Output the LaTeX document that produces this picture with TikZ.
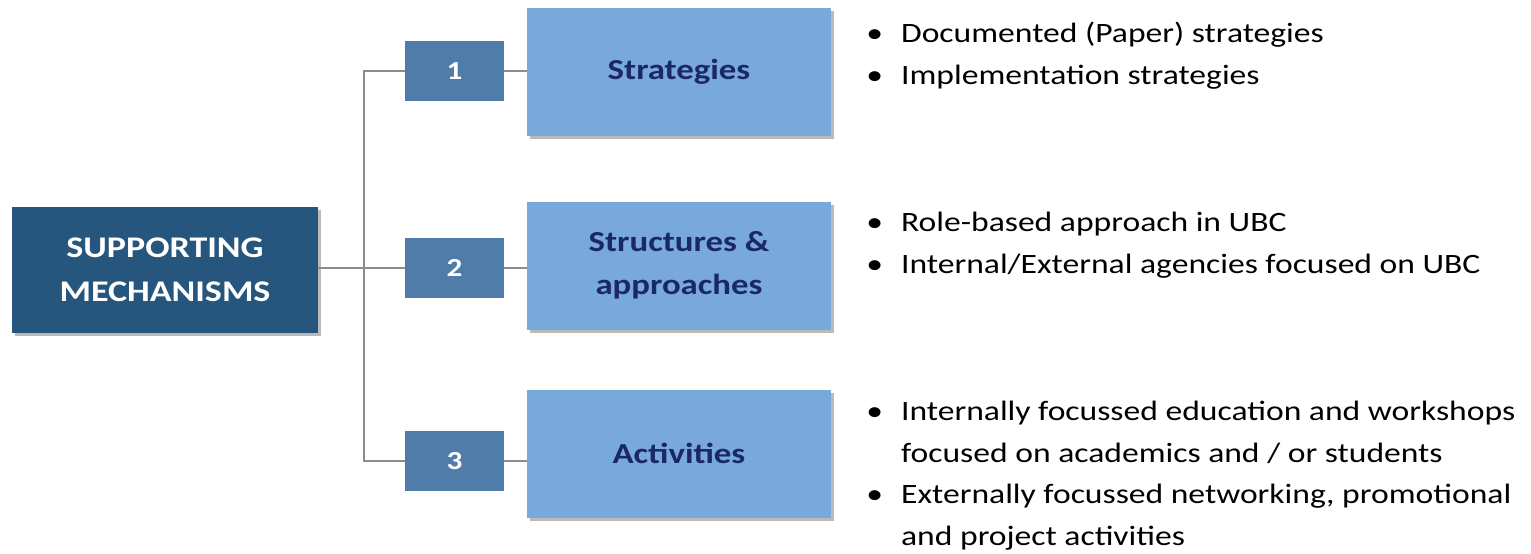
\documentclass[tikz,border=0pt]{standalone}
\usepackage{fontspec}
\setmainfont{Carlito}[FakeStretch=1.2]
\usetikzlibrary{calc,shadows}
\definecolor{MainBlue}{RGB}{38,85,126}
\definecolor{NumBlue}{RGB}{80,124,170}
\definecolor{BoxBlue}{RGB}{120,169,218}
\definecolor{InkBlue}{RGB}{27,40,102}
\definecolor{LineGray}{RGB}{140,140,140}

\begin{document}
\begin{tikzpicture}[x=0.5pt, y=-0.5pt,
	Schatten/.style={drop shadow={shadow xshift=1.5pt, shadow yshift=-1.5pt, opacity=0.45, fill=black!60}},
	Haupt/.style={Schatten, fill=MainBlue, text=white, font=\fontsize{15}{22}\selectfont\bfseries, align=center, minimum width=153pt, minimum height=63pt, inner sep=0pt},
	Nummer/.style={fill=NumBlue, text=white, font=\fontsize{13}{15}\selectfont\bfseries, minimum width=49.5pt, minimum height=30pt, inner sep=0pt},
	Feld/.style={Schatten, fill=BoxBlue, text=InkBlue, font=\fontsize{14.5}{21.5}\selectfont\bfseries, align=center, minimum width=152pt, minimum height=64pt, inner sep=0pt},
	Liste/.style={anchor=north west, inner sep=0pt, font=\fontsize{14}{20.75}\selectfont, align=left},
	Linie/.style={draw=LineGray, line width=0.8pt}]
				\useasboundingbox (0,0) rectangle (1531,553);
				\node[Haupt] (mech) at (165,270) {SUPPORTING\\MECHANISMS};
				\coordinate (stamm) at (364,268);
				\node[Nummer] (n1) at (454.5,71) {1};
				\node[Nummer] (n2) at (454.5,268) {2};
				\node[Nummer] (n3) at (454.5,461) {3};
				\node[Feld] (strat) at (679,72) {Strategies};
				\node[Feld] (struct) at (679,265.5) {Structures \&\\approaches};
				\node[Feld] (activ) at (679,453.5) {Activities};
				% Baum
				\draw[Linie] (mech.east |- stamm) -- (stamm);
				\draw[Linie] (stamm) |- (n1.west);
				\draw[Linie] (stamm) |- (n3.west);
				\draw[Linie] (stamm) -- (n2.west);
				\draw[Linie] (n1.east) -- (n1.east -| strat.west);
				\draw[Linie] (n2.east) -- (n2.east -| struct.west);
				\draw[Linie] (n3.east) -- (n3.east -| activ.west);
				% Stichpunkte
				\node[Liste] (l1) at (866,22) {\textbullet\hspace{9pt}Documented (Paper) strategies\\
					\textbullet\hspace{9pt}Implementation strategies};
				\node[Liste] (l2) at (866,212) {\textbullet\hspace{9pt}Role-based approach in UBC\\
					\textbullet\hspace{9pt}Internal/External agencies focused on UBC};
				\node[Liste] (l3) at (866,401) {\textbullet\hspace{9pt}Internally focussed education and workshops\\
					\phantom{\textbullet}\hspace{9pt}focused on academics and / or students\\
					\textbullet\hspace{9pt}Externally focussed networking, promotional\\
					\phantom{\textbullet}\hspace{9pt}and project activities};
			\end{tikzpicture}
\end{document}
